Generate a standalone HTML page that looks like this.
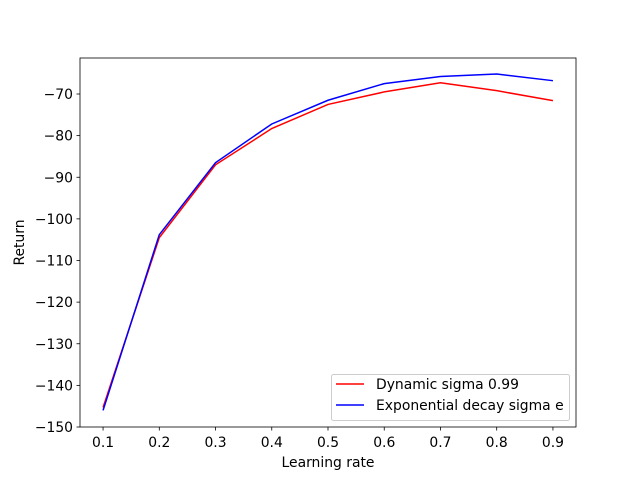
<!DOCTYPE html>
<html><head><meta charset="utf-8"><style>
body{margin:0;background:#fff}
svg text{font-family:"DejaVu Sans","Liberation Sans",sans-serif;font-size:13.9px;fill:#000}
</style></head><body>
<svg id="chart" width="640" height="480">
<rect x="0" y="0" width="640" height="480" fill="#fff"/>
<g id="plot"></g>
</svg>
<script>
const xValues=[0.1,0.2,0.3,0.4,0.5,0.6,0.7,0.8,0.9];
const dynamicSigma=[-145.3,-104.5,-87,-78.3,-72.5,-69.5,-67.3,-69.2,-71.6];
const expDecaySigma=[-146,-103.8,-86.5,-77.2,-71.5,-67.5,-65.8,-65.2,-66.8];
const xTicks=[0.1,0.2,0.3,0.4,0.5,0.6,0.7,0.8,0.9];
const yTicks=[-150,-140,-130,-120,-110,-100,-90,-80,-70];
const L=80,R=576,T=58,B=427;
const xMin=0.059,xMax=0.941,yMin=-150,yMax=-61.35;
function sx(v){return L+(v-xMin)/(xMax-xMin)*(R-L);}
function sy(v){return B-(v-yMin)/(yMax-yMin)*(B-T);}
const NS="http://www.w3.org/2000/svg";
const g=document.getElementById('plot');
function mk(t,a,p){const e=document.createElementNS(NS,t);for(const k in a)e.setAttribute(k,a[k]);(p||g).appendChild(e);return e;}
xTicks.forEach(v=>{
 const x=sx(v);
 const tk=mk('line',{x1:x,x2:x,y1:B,y2:B+3.5,stroke:'#000','stroke-width':0.8});
 
 
 const t=mk('text',{x:x,y:B+20,'text-anchor':'middle'});t.textContent=v.toFixed(1);
 
 
});
yTicks.forEach(v=>{
 const y=sy(v);
 const tk=mk('line',{x1:L-3.5,x2:L,y1:y,y2:y,stroke:'#000','stroke-width':0.8});
 
 
 const t=mk('text',{x:L-7,y:y+5,'text-anchor':'end'});t.textContent='\u2212'+Math.abs(v);
 
 
});
function line(data,color,name){
 const p=mk('polyline',{points:data.map((v,i)=>sx(xValues[i])+','+sy(v)).join(' '),fill:'none',stroke:color,'stroke-width':1.5});
 
 
}
line(dynamicSigma,'#ff0000','series-dynamic-sigma');
line(expDecaySigma,'#0000ff','series-exponential-decay');
const fr=mk('rect',{x:L,y:T,width:R-L,height:B-T,fill:'none',stroke:'#000','stroke-width':0.8});


const xl=mk('text',{x:(L+R)/2,y:467,'text-anchor':'middle'});xl.textContent='Learning rate';


const yl=mk('text',{x:0,y:0,'text-anchor':'middle',transform:'translate(24,'+((T+B)/2)+') rotate(-90)'});yl.textContent='Return';


const lg=mk('g',{});


mk('rect',{x:331.5,y:374.5,width:238,height:46,rx:2,fill:'#fff','fill-opacity':0.8,stroke:'#ccc','stroke-width':1},lg);
[['Dynamic sigma 0.99','#ff0000',389],['Exponential decay sigma e','#0000ff',410]].forEach(([n,c,y])=>{
 const e=mk('g',{},lg);
 
 
 mk('line',{x1:336,x2:364,y1:y-5,y2:y-5,stroke:c,'stroke-width':1.5},e);
 const t=mk('text',{x:376,y:y},e);t.textContent=n;
});
</script>
</body></html>
